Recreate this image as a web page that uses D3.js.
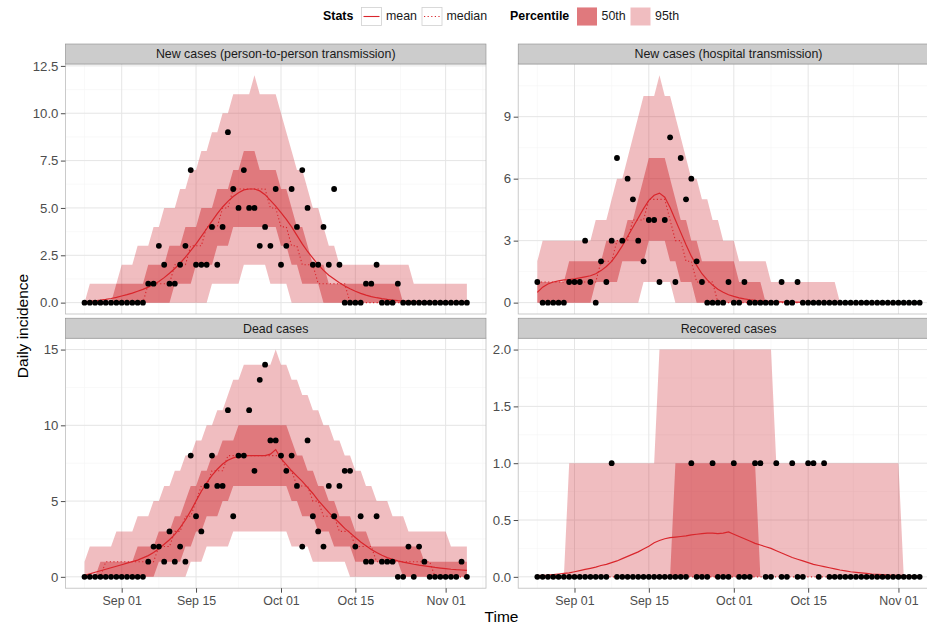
<!DOCTYPE html>
<html>
<head>
<meta charset="utf-8">
<script src="https://cdn.jsdelivr.net/npm/d3@7"></script>
<style>
  body { margin: 0; background: #fff; }
  svg { display: block; font-family: "Liberation Sans", Arial, Helvetica, sans-serif; }
</style>
</head>
<body>
<svg id="chart" width="927" height="625"></svg>
<script>
// ---- time axis: one observation per day ----
const firstDay = new Date(2014, 7, 25);
const lastDay = new Date(2014, 10, 5);
const dates = d3.timeDay.range(firstDay, d3.timeDay.offset(lastDay, 1));
const majorDates = [new Date(2014, 8, 1), new Date(2014, 8, 15), new Date(2014, 9, 1), new Date(2014, 9, 15), new Date(2014, 10, 1)];
const minorDates = [new Date(2014, 7, 25), new Date(2014, 8, 8), new Date(2014, 8, 23), new Date(2014, 9, 8), new Date(2014, 9, 23, 12), new Date(2014, 10, 8)];

// ---- New cases (person-to-person transmission) ----
const obsP2P = [0,0,0,0,0,0,0,0,0,0,0,0, 1,1,3,2,1,1,2,3,7,2,2,2, 4,2,4,9,6,5,7,5,5,3,4,3, 6,2,3,6,4,7,5,2,2,4,2,6, 2,0,0,0,0,1,1,2,0,0,0,1, 0,0,0,0,0,0,0,0,0,0,0,0,0];
const meanP2P = [0.05,0.07,0.1,0.13,0.17,0.22,0.28,0.35,0.42,0.5,0.6,0.7, 0.82,0.96,1.12,1.32,1.55,1.8,2.08,2.4,2.75,3.1,3.5,3.9, 4.3,4.7,5.05,5.35,5.6,5.8,5.95,6.0,6.0,5.9,5.7,5.4, 5.1,4.75,4.4,4.0,3.55,3.1,2.7,2.35,2.0,1.7,1.45,1.25, 1.05,0.88,0.73,0.6,0.49,0.4,0.32,0.26,0.21,0.17,0.14,0.11, 0.09,0.08,0.07,0.06,0.05,0.045,0.04,0.035,0.03,0.027,0.024,0.021,0.018];
const medianP2P = [0,0,0,0,0,0,0,0,0,0,0,0, 1,1,1,1,1,2,2,2,3,3,3,4, 4,4,5,5,6,6,6,6,6,6,6,5, 5,4,4,3,3,2,2,2,1,1,1,1, 1,1,0,0,0,0,0,0,0,0,0,0, 0,0,0,0,0,0,0,0,0,0,0,0,0];
const lo95P2P = [0,0,0,0,0,0,0,0,0,0,0,0, 0,0,0,0,0,0,0,0,0,0,0,0, 1,1,1,1,1,1,2,2,2,2,2,1, 1,1,1,0,0,0,0,0,0,0,0,0, 0,0,0,0,0,0,0,0,0,0,0,0, 0,0,0,0,0,0,0,0,0,0,0,0,0];
const hi95P2P = [0,1,1,1,1,1,1,2,2,2,3,3, 3,4,4,5,5,5,6,6,7,7,8,8, 9,9,10,10,11,11,11,11,12,11,11,11, 11,10,9,8,7,7,6,5,5,4,3,3, 2,2,2,2,2,2,2,2,2,2,2,2, 2,2,1,1,1,1,1,1,1,1,1,1,1];
const lo50P2P = [0,0,0,0,0,0,0,0,0,0,0,0, 0,0,0,0,0,1,1,1,1,2,2,2, 2,3,3,3,4,4,4,4,4,4,4,4, 4,3,3,2,2,1,1,1,1,0,0,0, 0,0,0,0,0,0,0,0,0,0,0,0, 0,0,0,0,0,0,0,0,0,0,0,0,0];
const hi50P2P = [0,0,0,0,0,0,1,1,1,1,1,1, 2,2,2,2,3,3,3,4,4,4,5,5, 5,6,6,6,7,7,8,8,8,7,7,7, 7,6,6,5,4,4,3,2,2,2,1,1, 1,1,1,1,1,1,1,1,1,1,1,1, 0,0,0,0,0,0,0,0,0,0,0,0,0];

// ---- New cases (hospital transmission) ----
const obsHosp = [1,0,0,0,0,0,1,1,1,3,1,0, 2,1,3,7,3,6,5,3,2,4,4,1, 4,8,1,7,5,6,2,1,0,0,0,0, 1,0,0,1,0,0,0,0,0,0,1,0, 0,1,0,0,0,0,0,0,0,0,0,0, 0,0,0,0,0,0,0,0,0,0,0,0,0];
const meanHosp = [0.5,0.75,0.9,1.0,1.05,1.1,1.12,1.15,1.2,1.25,1.3,1.4, 1.55,1.75,2.0,2.35,2.75,3.2,3.65,4.1,4.55,4.95,5.2,5.3, 5.1,4.6,4.0,3.4,2.8,2.25,1.8,1.4,1.1,0.85,0.65,0.5, 0.38,0.3,0.23,0.18,0.14,0.11,0.09,0.07,0.055,0.045,0.035,0.03, 0.025,0.02,0.017,0.014,0.012,0.01,0.008,0.007,0.006,0.005,0.004,0.003, 0.003,0.003,0.002,0.002,0.002,0.002,0.001,0.001,0.001,0.001,0.001,0.001,0.001];
const medianHosp = [1,1,1,1,1,1,1,1,1,1,1,1, 2,2,2,3,3,3,4,4,4,5,5,5, 5,4,3,3,2,2,1,1,1,1,0,0, 0,0,0,0,0,0,0,0,0,0,0,0, 0,0,0,0,0,0,0,0,0,0,0,0, 0,0,0,0,0,0,0,0,0,0,0,0,0];
const lo95Hosp = [0,0,0,0,0,0,0,0,0,0,0,0, 0,0,0,0,0,0,0,0,1,1,1,1, 1,1,0,0,0,0,0,0,0,0,0,0, 0,0,0,0,0,0,0,0,0,0,0,0, 0,0,0,0,0,0,0,0,0,0,0,0, 0,0,0,0,0,0,0,0,0,0,0,0,0];
const hi95Hosp = [2,3,3,3,3,3,3,3,3,3,3,4, 4,4,5,6,6,7,8,9,10,10,10,11, 10,10,9,8,7,6,6,5,5,4,4,3, 3,3,2,2,2,2,2,2,1,1,1,1, 1,1,1,1,1,1,1,1,1,0,0,0, 0,0,0,0,0,0,0,0,0,0,0,0,0];
const lo50Hosp = [0,0,0,0,0,0,0,0,0,0,0,1, 1,1,1,1,2,2,2,2,2,3,3,3, 3,2,2,1,1,1,0,0,0,0,0,0, 0,0,0,0,0,0,0,0,0,0,0,0, 0,0,0,0,0,0,0,0,0,0,0,0, 0,0,0,0,0,0,0,0,0,0,0,0,0];
const hi50Hosp = [1,1,1,1,1,1,2,2,2,2,2,2, 2,3,3,3,3,4,4,5,6,7,7,7, 7,6,5,4,4,3,3,2,2,2,2,2, 2,2,1,1,1,1,1,0,0,0,0,0, 0,0,0,0,0,0,0,0,0,0,0,0, 0,0,0,0,0,0,0,0,0,0,0,0,0];

// ---- Dead cases ----
const obsDead = [0,0,0,0,0,0,0,0,0,0,0,0, 1,2,2,1,3,1,2,1,8,4,3,6, 8,6,6,11,4,8,8,11,7,13,14,9, 9,8,7,8,6,2,9,4,3,2,6,4, 6,7,7,2,4,1,1,4,1,1,1,0, 0,2,0,2,1,0,0,0,0,0,0,1,0];
const meanDead = [0.1,0.2,0.3,0.4,0.5,0.6,0.7,0.8,0.9,1.0,1.1,1.25, 1.4,1.6,1.85,2.15,2.45,2.8,3.25,3.75,4.35,5.0,5.65,6.2, 6.7,7.1,7.45,7.7,7.85,7.95,8.0,8.0,8.0,8.0,8.0,8.1, 8.4,7.8,7.4,7.0,6.65,6.3,5.9,5.5,5.05,4.65,4.25,3.9, 3.55,3.2,2.9,2.6,2.3,2.05,1.8,1.6,1.42,1.27,1.15,1.05, 0.97,0.9,0.83,0.77,0.72,0.67,0.62,0.58,0.54,0.5,0.47,0.45,0.43];
const medianDead = [0,0,0,0,1,1,1,1,1,1,1,1, 1,1,2,2,2,3,3,4,4,5,6,6, 7,7,7,8,8,8,8,8,8,8,8,8, 8,8,7,7,6,6,6,5,5,4,4,4, 3,3,3,2,2,2,2,1,1,1,1,1, 1,1,1,1,1,1,0,0,0,0,0,0,0];
const lo95Dead = [0,0,0,0,0,0,0,0,0,0,0,0, 0,0,0,0,0,0,0,0,1,1,1,2, 2,2,2,2,3,3,3,3,3,3,3,3, 3,3,3,2,2,2,2,1,1,1,1,1, 1,1,0,0,0,0,0,0,0,0,0,0, 0,0,0,0,0,0,0,0,0,0,0,0,0];
const hi95Dead = [1,2,2,2,2,2,3,3,3,3,4,4, 4,5,5,6,6,7,7,8,8,9,9,10, 10,11,11,12,13,13,14,14,14,14,14,14, 15,14,14,13,13,12,12,11,11,10,10,9, 9,8,8,7,7,6,6,5,5,5,4,4, 4,3,3,3,3,3,3,3,3,2,2,2,2];
const lo50Dead = [0,0,0,0,0,0,0,0,0,0,0,0, 0,0,1,1,1,1,1,2,2,3,3,4, 4,4,5,5,6,6,6,6,6,6,6,6, 6,6,6,5,5,4,4,4,3,3,3,2, 2,2,2,1,1,1,1,1,1,1,1,1, 0,0,0,0,0,0,0,0,0,0,0,0,0];
const hi50Dead = [0,0,0,1,1,1,1,1,1,1,2,2, 2,2,3,3,3,4,4,5,6,6,7,7, 8,8,9,9,9,10,10,10,10,10,10,10, 10,10,10,9,8,8,7,7,6,6,5,5, 4,4,4,3,3,3,2,2,2,2,2,2, 2,2,2,2,1,1,1,1,1,1,1,1,1];

// ---- Recovered cases ----
const obsRecov = [0,0,0,0,0,0,0,0,0,0,0,0, 0,0,1,0,0,0,0,0,0,0,0,0, 0,0,0,0,0,1,0,0,0,1,0,0, 0,1,0,0,0,1,1,0,0,1,0,0, 1,0,0,1,1,0,1,0,0,0,0,0, 0,0,0,0,0,0,0,0,0,0,0,0,0];
const meanRecov = [0.01,0.012,0.015,0.02,0.025,0.03,0.035,0.045,0.055,0.065,0.075,0.085, 0.1,0.11,0.125,0.14,0.16,0.18,0.2,0.22,0.245,0.27,0.3,0.32, 0.335,0.345,0.35,0.355,0.36,0.37,0.375,0.38,0.385,0.385,0.38,0.385, 0.395,0.375,0.355,0.335,0.315,0.295,0.28,0.265,0.25,0.23,0.21,0.19, 0.17,0.155,0.14,0.125,0.11,0.1,0.09,0.08,0.07,0.06,0.052,0.045, 0.04,0.035,0.03,0.025,0.022,0.019,0.016,0.014,0.012,0.01,0.009,0.008,0.007];
const medianRecov = [0,0,0,0,0,0,0,0,0,0,0,0, 0,0,0,0,0,0,0,0,0,0,0,0, 0,0,0,0,0,0,0,0,0,0,0,0, 0,0,0,0,0,0,0,0,0,0,0,0, 0,0,0,0,0,0,0,0,0,0,0,0, 0,0,0,0,0,0,0,0,0,0,0,0,0];
const lo95Recov = [0,0,0,0,0,0,0,0,0,0,0,0, 0,0,0,0,0,0,0,0,0,0,0,0, 0,0,0,0,0,0,0,0,0,0,0,0, 0,0,0,0,0,0,0,0,0,0,0,0, 0,0,0,0,0,0,0,0,0,0,0,0, 0,0,0,0,0,0,0,0,0,0,0,0,0];
const hi95Recov = [0,0,0,0,0,0,1,1,1,1,1,1, 1,1,1,1,1,1,1,1,1,1,1,2, 2,2,2,2,2,2,2,2,2,2,2,2, 2,2,2,2,2,2,2,2,2,1,1,1, 1,1,1,1,1,1,1,1,1,1,1,1, 1,1,1,1,1,1,1,1,1,0,0,0,0];
const lo50Recov = [0,0,0,0,0,0,0,0,0,0,0,0, 0,0,0,0,0,0,0,0,0,0,0,0, 0,0,0,0,0,0,0,0,0,0,0,0, 0,0,0,0,0,0,0,0,0,0,0,0, 0,0,0,0,0,0,0,0,0,0,0,0, 0,0,0,0,0,0,0,0,0,0,0,0,0];
const hi50Recov = [0,0,0,0,0,0,0,0,0,0,0,0, 0,0,0,0,0,0,0,0,0,0,0,0, 0,0,1,1,1,1,1,1,1,1,1,1, 1,1,1,1,1,1,0,0,0,0,0,0, 0,0,0,0,0,0,0,0,0,0,0,0, 0,0,0,0,0,0,0,0,0,0,0,0,0];

// ---- y-axis tick values per panel ----
const yTicksP2P = [0, 2.5, 5, 7.5, 10, 12.5];
const yTicksHosp = [0, 3, 6, 9];
const yTicksDead = [0, 5, 10, 15];
const yTicksRecov = [0, 0.5, 1, 1.5, 2];

const panels = [
  { title: "New cases (person-to-person transmission)", col: 0, row: 0, obs: obsP2P, mean: meanP2P, median: medianP2P, lo95: lo95P2P, hi95: hi95P2P, lo50: lo50P2P, hi50: hi50P2P, ticks: yTicksP2P, fmt: d3.format(".1f") },
  { title: "New cases (hospital transmission)", col: 1, row: 0, obs: obsHosp, mean: meanHosp, median: medianHosp, lo95: lo95Hosp, hi95: hi95Hosp, lo50: lo50Hosp, hi50: hi50Hosp, ticks: yTicksHosp, fmt: d3.format("d") },
  { title: "Dead cases", col: 0, row: 1, obs: obsDead, mean: meanDead, median: medianDead, lo95: lo95Dead, hi95: hi95Dead, lo50: lo50Dead, hi50: hi50Dead, ticks: yTicksDead, fmt: d3.format("d") },
  { title: "Recovered cases", col: 1, row: 1, obs: obsRecov, mean: meanRecov, median: medianRecov, lo95: lo95Recov, hi95: hi95Recov, lo50: lo50Recov, hi50: hi50Recov, ticks: yTicksRecov, fmt: d3.format(".1f") }
];

// ---- layout ----
const colX = [65.4, 518.2];
const panelW = 420.6;
const rowStripY = [44, 318.2];
const stripH = 20;
const panelH = 250;
const textCol = "#4d4d4d";
const bandBase = "rgb(205,38,45)";
const band95Opacity = 0.3;
const band50Opacity = 0.45;
const lineCol = "#d9262c";

const svg = d3.select("#chart");
svg.append("rect").attr("width", 927).attr("height", 625).attr("fill", "#fff");

const dayMs = 864e5;
const xDomain = [new Date(+firstDay - 3.6 * dayMs), new Date(+lastDay + 3.6 * dayMs)];

panels.forEach((p, i) => {
  const x0 = colX[p.col];
  const sy = rowStripY[p.row];
  const y0 = sy + stripH;
  const x = d3.scaleTime().domain(xDomain).range([x0, x0 + panelW]);
  const yMax = d3.max([d3.max(p.hi95), d3.max(p.obs)]);
  const pad = yMax * 0.05;
  const y = d3.scaleLinear().domain([-pad, yMax + pad]).range([y0 + panelH, y0]);

  const g = svg.append("g");
  const clipId = "clip" + i;
  svg.append("clipPath").attr("id", clipId)
    .append("rect").attr("x", x0).attr("y", y0).attr("width", panelW).attr("height", panelH);

  // panel background
  g.append("rect").attr("x", x0).attr("y", y0).attr("width", panelW).attr("height", panelH).attr("fill", "#fff");

  const grid = g.append("g").attr("clip-path", `url(#${clipId})`);
  const step = p.ticks[1] - p.ticks[0];
  const minorY = d3.range(p.ticks[0] - step / 2, p.ticks[p.ticks.length - 1] + step, step);
  grid.selectAll(".mny").data(minorY).join("line")
    .attr("x1", x0).attr("x2", x0 + panelW).attr("y1", d => y(d)).attr("y2", d => y(d))
    .attr("stroke", "#f5f5f5").attr("stroke-width", 0.6);
  grid.selectAll(".mnx").data(minorDates).join("line")
    .attr("x1", d => x(d)).attr("x2", d => x(d)).attr("y1", y0).attr("y2", y0 + panelH)
    .attr("stroke", "#f5f5f5").attr("stroke-width", 0.6);
  grid.selectAll(".mjy").data(p.ticks).join("line")
    .attr("x1", x0).attr("x2", x0 + panelW).attr("y1", d => y(d)).attr("y2", d => y(d))
    .attr("stroke", "#e5e5e5").attr("stroke-width", 1);
  grid.selectAll(".mjx").data(majorDates).join("line")
    .attr("x1", d => x(d)).attr("x2", d => x(d)).attr("y1", y0).attr("y2", y0 + panelH)
    .attr("stroke", "#e5e5e5").attr("stroke-width", 1);

  const plot = g.append("g").attr("clip-path", `url(#${clipId})`);
  const idx = d3.range(dates.length);

  const area95 = d3.area().x(j => x(dates[j])).y0(j => y(p.lo95[j])).y1(j => y(p.hi95[j]));
  const area50 = d3.area().x(j => x(dates[j])).y0(j => y(p.lo50[j])).y1(j => y(p.hi50[j]));
  plot.append("path").attr("d", area95(idx)).attr("fill", bandBase).attr("fill-opacity", band95Opacity);
  plot.append("path").attr("d", area50(idx)).attr("fill", bandBase).attr("fill-opacity", band50Opacity);

  const meanLine = d3.line().x(j => x(dates[j])).y(j => y(p.mean[j]));
  const medLine = d3.line().x(j => x(dates[j])).y(j => y(p.median[j]));
  plot.append("path").attr("d", medLine(idx)).attr("fill", "none")
    .attr("stroke", lineCol).attr("stroke-width", 1.1).attr("stroke-dasharray", "1.2,2.4");
  plot.append("path").attr("d", meanLine(idx)).attr("fill", "none")
    .attr("stroke", lineCol).attr("stroke-width", 1.2);

  plot.selectAll("circle").data(idx).join("circle")
    .attr("cx", j => x(dates[j])).attr("cy", j => y(p.obs[j])).attr("r", 2.9).attr("fill", "#000");

  // panel border
  g.append("rect").attr("x", x0).attr("y", y0).attr("width", panelW).attr("height", panelH)
    .attr("fill", "none").attr("stroke", "#bdbdbd").attr("stroke-width", 0.8);

  // strip
  g.append("rect").attr("x", x0).attr("y", sy).attr("width", panelW).attr("height", stripH)
    .attr("fill", "#cccccc").attr("stroke", "#8c8c8c").attr("stroke-width", 0.6);
  g.append("text").attr("x", x0 + panelW / 2).attr("y", sy + stripH / 2 + 4.3)
    .attr("text-anchor", "middle").attr("font-size", 12.4).attr("fill", "#1a1a1a").text(p.title);

  // y axis
  const ya = g.append("g").attr("transform", `translate(${x0},0)`)
    .call(d3.axisLeft(y).tickValues(p.ticks).tickFormat(p.fmt).tickSize(4.5).tickPadding(2.5));
  ya.select(".domain").remove();
  ya.selectAll("line").attr("stroke", textCol);
  ya.selectAll("text").attr("fill", textCol).attr("font-size", 13.2).attr("font-family", null);

  // x axis under the bottom row
  if (p.row === 1) {
    const xa = g.append("g").attr("transform", `translate(0,${y0 + panelH})`)
      .call(d3.axisBottom(x).tickValues(majorDates).tickFormat(d3.timeFormat("%b %d")).tickSize(4.5).tickPadding(3.5));
    xa.select(".domain").remove();
    xa.selectAll("line").attr("stroke", textCol);
    xa.selectAll("text").attr("fill", textCol).attr("font-size", 12.4).attr("font-family", null);
  }
});

// ---- axis titles ----
svg.append("text").attr("x", 501.5).attr("y", 621.5).attr("text-anchor", "middle")
  .attr("font-size", 15.5).attr("fill", "#000").text("Time");
svg.append("text").attr("transform", "translate(27.5,326) rotate(-90)").attr("text-anchor", "middle")
  .attr("font-size", 15.5).attr("fill", "#000").text("Daily incidence");

// ---- legend ----
const leg = svg.append("g");
const legY = 19.5;
leg.append("text").attr("x", 323).attr("y", legY).attr("font-size", 12.4).attr("font-weight", "bold").text("Stats");
const statKeys = [{ label: "mean", x: 361.5, dash: null }, { label: "median", x: 422, dash: "1.2,2.4" }];
statKeys.forEach(k => {
  leg.append("rect").attr("x", k.x).attr("y", 7.5).attr("width", 20).attr("height", 18)
    .attr("fill", "#fff").attr("stroke", "#d0d0d0").attr("stroke-width", 0.8);
  leg.append("line").attr("x1", k.x + 2).attr("x2", k.x + 18).attr("y1", 16.5).attr("y2", 16.5)
    .attr("stroke", lineCol).attr("stroke-width", 1.1).attr("stroke-dasharray", k.dash);
  leg.append("text").attr("x", k.x + 24.5).attr("y", legY).attr("font-size", 12.4).attr("fill", "#1a1a1a").text(k.label);
});
leg.append("text").attr("x", 510).attr("y", legY).attr("font-size", 12.4).attr("font-weight", "bold").text("Percentile");
const pctKeys = [{ label: "50th", x: 577, layers: [band95Opacity, band50Opacity] }, { label: "95th", x: 630.5, layers: [band95Opacity] }];
pctKeys.forEach(k => {
  leg.append("rect").attr("x", k.x).attr("y", 7.5).attr("width", 20).attr("height", 18).attr("fill", "#fff");
  k.layers.forEach(op => {
    leg.append("rect").attr("x", k.x).attr("y", 7.5).attr("width", 20).attr("height", 18)
      .attr("fill", bandBase).attr("fill-opacity", op);
  });
  leg.append("text").attr("x", k.x + 24.5).attr("y", legY).attr("font-size", 12.4).attr("fill", "#1a1a1a").text(k.label);
});
</script>
</body>
</html>
